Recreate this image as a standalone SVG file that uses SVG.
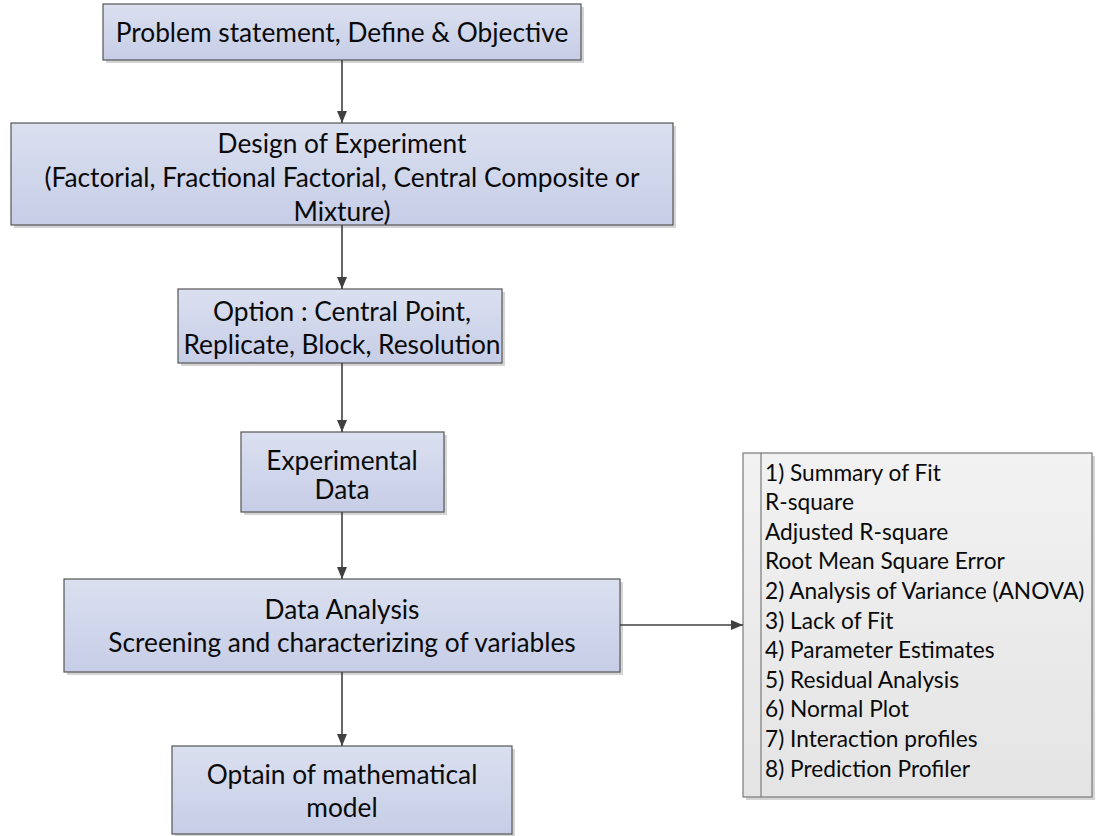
<svg xmlns="http://www.w3.org/2000/svg" width="1096" height="836" viewBox="0 0 1096 836">
  <defs>
    <linearGradient id="blueFill" x1="0" y1="0" x2="0" y2="1">
      <stop offset="0" stop-color="#dbe0f0"/>
      <stop offset="1" stop-color="#c6cde6"/>
    </linearGradient>
    <linearGradient id="grayFill" x1="0" y1="0" x2="0" y2="1">
      <stop offset="0" stop-color="#f2f2f2"/>
      <stop offset="1" stop-color="#e4e4e4"/>
    </linearGradient>
    <marker id="arrow" viewBox="0 0 12 12" refX="12" refY="6" markerWidth="12" markerHeight="12" markerUnits="userSpaceOnUse" orient="auto">
      <path d="M0,1 L12,6 L0,11 Z" fill="#404040"/>
    </marker>
  </defs>
  <style>
    .shadow { fill: #d4d4d4; }
    .box { fill: url(#blueFill); stroke: #555555; stroke-width: 1.2; }
    .gbox { fill: url(#grayFill); stroke: #7a7a7a; stroke-width: 1.2; }
    .lbl { font-family: Lato, "Liberation Sans", sans-serif; font-size: 26.3px; fill: #0a0a0a; text-anchor: middle; dominant-baseline: central; }
    .lst { font-family: Lato, "Liberation Sans", sans-serif; font-size: 22.7px; fill: #0a0a0a; dominant-baseline: central; }
    .conn { stroke: #404040; stroke-width: 1.6; fill: none; marker-end: url(#arrow); }
  </style>
  <rect width="1096" height="836" fill="#ffffff"/>

  <g id="n1">
    <rect class="shadow" x="106" y="7" width="478" height="56"/>
    <rect class="box" x="103" y="4" width="478" height="56"/>
    <text class="lbl" x="342" y="32">Problem statement, Define &amp; Objective</text>
  </g>

  <g id="n2">
    <rect class="shadow" x="14" y="126" width="662" height="102"/>
    <rect class="box" x="11" y="123" width="662" height="102"/>
    <text class="lbl" x="342" y="143">Design of Experiment</text>
    <text class="lbl" x="342" y="177">(Factorial, Fractional Factorial, Central Composite or</text>
    <text class="lbl" x="342" y="211">Mixture)</text>
  </g>

  <g id="n3">
    <rect class="shadow" x="181" y="292" width="324" height="74"/>
    <rect class="box" x="178" y="289" width="324" height="74"/>
    <text class="lbl" x="342" y="311">Option : Central Point,</text>
    <text class="lbl" x="342" y="344">Replicate, Block, Resolution</text>
  </g>

  <g id="n4">
    <rect class="shadow" x="244" y="435" width="203" height="80"/>
    <rect class="box" x="241" y="432" width="203" height="80"/>
    <text class="lbl" x="342" y="460">Experimental</text>
    <text class="lbl" x="342" y="489">Data</text>
  </g>

  <g id="n5">
    <rect class="shadow" x="67" y="582" width="556" height="93"/>
    <rect class="box" x="64" y="579" width="556" height="93"/>
    <text class="lbl" x="342" y="609">Data Analysis</text>
    <text class="lbl" x="342" y="642">Screening and characterizing of variables</text>
  </g>

  <g id="n6">
    <rect class="shadow" x="175" y="749" width="340" height="88"/>
    <rect class="box" x="172" y="746" width="340" height="88"/>
    <text class="lbl" x="342" y="774">Optain of mathematical</text>
    <text class="lbl" x="342" y="807">model</text>
  </g>

  <g id="n7">
    <rect class="shadow" x="746" y="456" width="349" height="344"/>
    <rect class="gbox" x="743" y="453" width="349" height="344"/>
    <line x1="761" y1="453" x2="761" y2="797" stroke="#7a7a7a" stroke-width="1.2"/>
    <text class="lst" x="765" y="472">1) Summary of Fit</text>
    <text class="lst" x="765" y="501.6">R-square</text>
    <text class="lst" x="765" y="531.2">Adjusted R-square</text>
    <text class="lst" x="765" y="560.8">Root Mean Square Error</text>
    <text class="lst" x="765" y="590.4">2) Analysis of Variance (ANOVA)</text>
    <text class="lst" x="765" y="620">3) Lack of Fit</text>
    <text class="lst" x="765" y="649.6">4) Parameter Estimates</text>
    <text class="lst" x="765" y="679.2">5) Residual Analysis</text>
    <text class="lst" x="765" y="708.8">6) Normal Plot</text>
    <text class="lst" x="765" y="738.4">7) Interaction profiles</text>
    <text class="lst" x="765" y="768">8) Prediction Profiler</text>
  </g>

  <g id="connectors">
    <line class="conn" x1="342" y1="60" x2="342" y2="123"/>
    <line class="conn" x1="342" y1="225" x2="342" y2="289"/>
    <line class="conn" x1="342" y1="363" x2="342" y2="432"/>
    <line class="conn" x1="342" y1="512" x2="342" y2="579"/>
    <line class="conn" x1="342" y1="672" x2="342" y2="746"/>
    <line class="conn" x1="620" y1="625" x2="743" y2="625"/>
  </g>
</svg>
